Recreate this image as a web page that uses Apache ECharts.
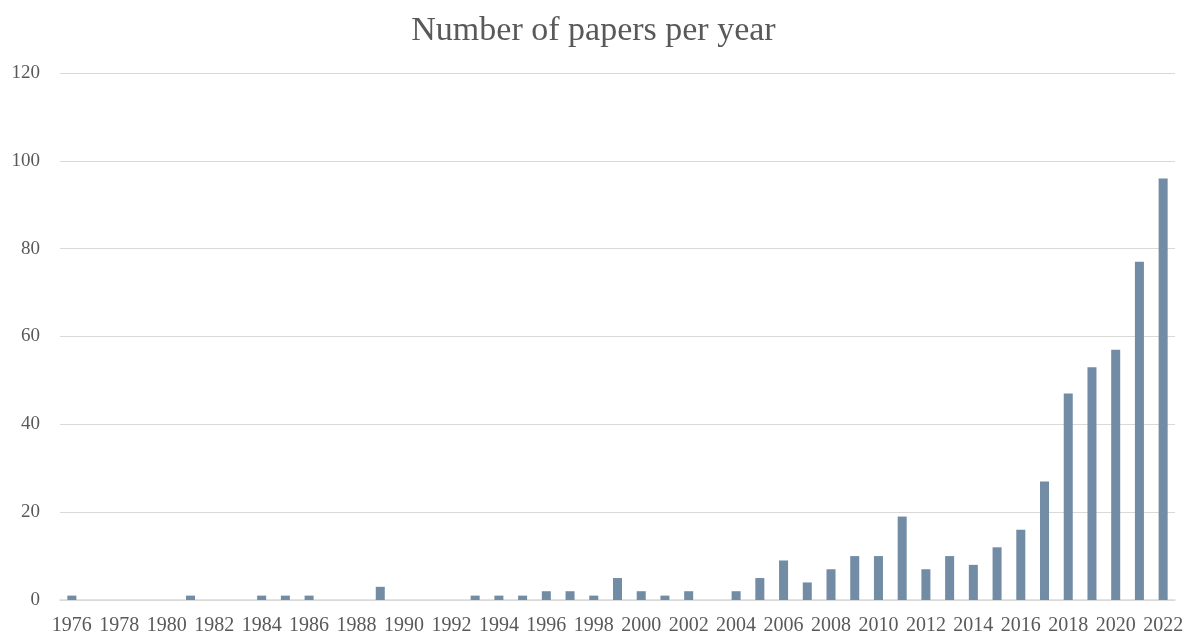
<!DOCTYPE html>
<html>
<head>
<meta charset="utf-8">
<script src="https://cdn.jsdelivr.net/npm/echarts@6/dist/echarts.min.js"></script>
<style>html,body{margin:0;padding:0;background:#fff;}#c{width:1187px;height:637px;}</style>
</head>
<body>
<div id="c"></div>
<script>
const years = [];
for (let y = 1976; y <= 2022; y++) years.push(String(y));
const papers = [1,0,0,0,0,1,0,0,1,1,1,0,0,3,0,0,0,1,1,1,2,2,1,5,2,1,2,0,2,5,9,4,7,10,10,19,7,10,8,12,16,27,47,53,57,77,96];
const titleText = 'Number of papers per year';
const yTicks = {min: 0, max: 120, interval: 20};

const chart = echarts.init(document.getElementById('c'));
const font = '"Liberation Serif", "DejaVu Serif", serif';
chart.setOption({
  animation: false,
  title: {
    text: titleText, left: 'center', top: 9,
    textStyle: {fontFamily: font, fontSize: 34, fontWeight: 'normal', color: '#595959'}
  },
  grid: {left: 60, right: 12, top: 73, bottom: 37, containLabel: false},
  xAxis: {
    type: 'category', data: years,
    axisLine: {lineStyle: {color: '#d9d9d9', width: 1.5}},
    axisTick: {show: false},
    axisLabel: {interval: 1, color: '#595959', fontFamily: font, fontSize: 20, margin: 16}
  },
  yAxis: {
    type: 'value', min: yTicks.min, max: yTicks.max, interval: yTicks.interval,
    axisLine: {show: false}, axisTick: {show: false},
    splitLine: {lineStyle: {color: '#d9d9d9', width: 1.2}},
    axisLabel: {color: '#595959', fontFamily: font, fontSize: 19, margin: 20}
  },
  series: [{
    type: 'bar', data: papers, barWidth: '38%',
    itemStyle: {color: '#718ca4'}
  }]
});
</script>
</body>
</html>
